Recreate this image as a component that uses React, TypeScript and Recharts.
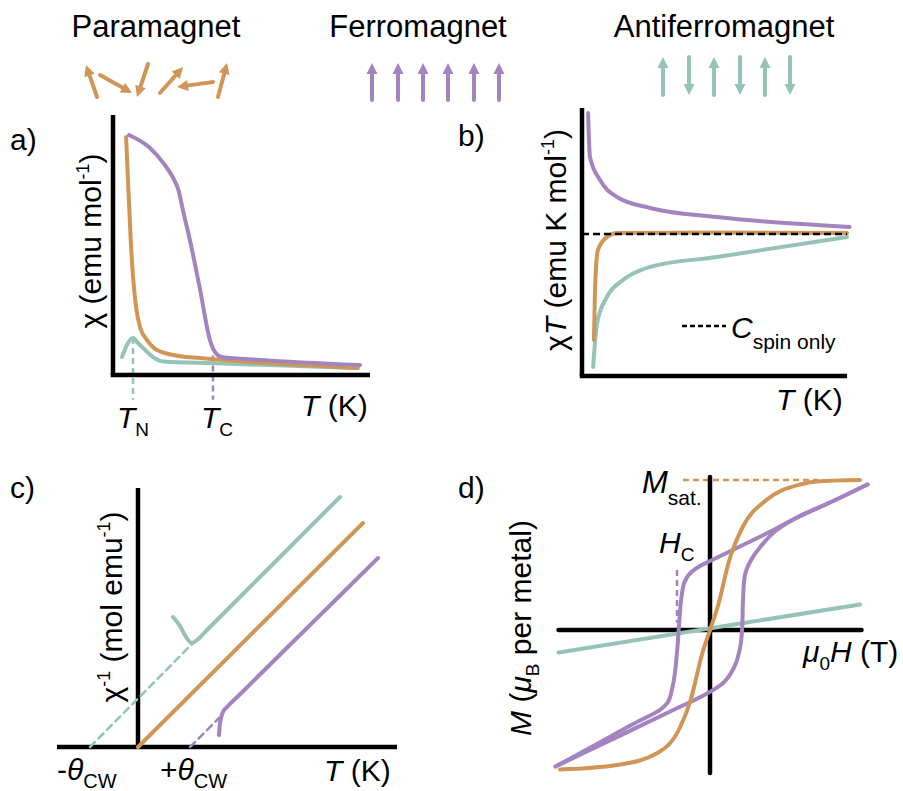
import React from 'react';
import { ComposedChart, Line, XAxis, YAxis, ReferenceLine } from 'recharts';

const FONT = '"Liberation Sans", Arial, Helvetica, sans-serif';
const ORANGE = '#D09656';
const PURPLE = '#A384BF';
const TEAL = '#95C3B8';

type Pt = { x: number; y: number };
const pts = (rows: number[][]): Pt[] => rows.map(([x, y]) => ({ x, y }));

// a) chi vs T
const chiPara = pts([[5.1, 91.5], [5.6, 80], [6.2, 67], [7.0, 50], [7.8, 37.7], [9.0, 26], [10.5, 18.5], [13.2, 13.5], [17.1, 9.6], [24, 7.6], [33.9, 6.5], [53.3, 5], [95.3, 2.7]]);
const chiFerro = pts([[6.2, 92.3], [14.4, 87.3], [20, 81], [23.3, 76], [25.5, 71], [27.3, 63], [29.9, 52], [33.9, 32.7], [37.7, 13.5], [39.7, 8.8], [42.4, 6.9], [57.2, 5.8], [96.1, 3.8]]);
const chiAnti = pts([[3.5, 6.9], [5.4, 11.5], [7.8, 14.2], [9.7, 12.3], [11.7, 10.4], [15.6, 6.9], [19.5, 5.2], [40, 4.5], [94.9, 2.7]]);
const T_N = 7.8;
const T_C = 38.9;

// b) chi*T vs T
const chiTFerro = pts([[2.3, 98.1], [3.0, 81.7], [6.8, 73.1], [13.2, 66.8], [25.7, 62.7], [50.9, 59.3], [101, 55.6]]);
const chiTPara = pts([[4.5, 13.4], [4.9, 32.1], [6.0, 47], [9.4, 51.9], [13.2, 53.4], [50, 53.5], [100, 53.4]]);
const chiTAnti = pts([[4.2, 3.4], [5.7, 19.8], [9.4, 29.5], [15.5, 35.8], [25.7, 40.7], [50.9, 44.4], [100, 51.9]]);
const C_SPIN = 53.0;

// c) inverse chi vs T (Curie-Weiss)
const invPara = pts([[0, 0], [90, 89.6]]);
const invAntiFit = pts([[-19.2, 0], [22, 41.6]]);
const invAnti = pts([[14, 52], [16.8, 48.4], [19.2, 44], [21.6, 41.6], [23.6, 42.8], [28, 47.2], [40, 59.2], [60, 79.2], [80.8, 100]]);
const invFerroFit = pts([[20.8, 0], [32.4, 11.6]]);
const invFerro = pts([[32.4, 4.8], [32.8, 9.6], [34, 14], [35.6, 16], [40, 20.3], [60, 40.1], [80, 59.8], [96, 75.6]]);

// d) M vs H
const mPara = pts([[-1.0, -0.93], [-0.62, -0.9], [-0.35, -0.82], [-0.2, -0.65], [-0.13, -0.47], [-0.05, -0.15], [0, 0], [0.05, 0.15], [0.13, 0.47], [0.22, 0.69], [0.38, 0.87], [0.6, 0.97], [0.71, 0.99], [1.0, 1.0]]);
const mFerroDown = pts([[1.05, 0.97], [0.8, 0.85], [0.6, 0.76], [0.4, 0.655], [0.2, 0.557], [0.0, 0.46], [-0.07, 0.425], [-0.12, 0.39], [-0.17, 0.32], [-0.19, 0.22], [-0.205, 0.05], [-0.22, -0.15], [-0.25, -0.38], [-0.28, -0.48], [-0.33, -0.53], [-0.5, -0.62], [-0.7, -0.73], [-0.9, -0.84], [-1.03, -0.91]]);
const mFerroUp = pts([[-1.03, -0.91], [-0.8, -0.8], [-0.5, -0.656], [-0.2, -0.512], [-0.05, -0.44], [0.08, -0.36], [0.16, -0.25], [0.2, -0.12], [0.215, 0.02], [0.22, 0.2], [0.23, 0.35], [0.27, 0.46], [0.34, 0.56], [0.45, 0.67], [0.6, 0.76], [0.8, 0.85], [1.05, 0.97]]);
const mAnti = pts([[-1.01, -0.15], [1.0, 0.17]]);
const M_SAT = 1.0;
const H_C = -0.22;

// spin icons above the panels
const paraArrows = [[97, 97, 86, 65], [100, 75, 132, 93], [148, 64, 137, 97], [160, 93, 183, 67], [213, 82, 177, 87], [218, 97, 227, 63]];
const ferroArrowX = [372, 398, 423, 448, 474, 499];
const antiArrowX = [663, 689, 714, 740, 765, 790];

type Rect = { left: number; top: number; width: number; height: number };
function domains(r: Rect, ox: number, oy: number, sx: number, sy: number) {
  return {
    x: [(r.left - ox) / sx, (r.left + r.width - ox) / sx] as [number, number],
    y: [(oy - (r.top + r.height)) / sy, (oy - r.top) / sy] as [number, number],
  };
}

const curve = (data: Pt[], color: string, type: any = 'monotone', dash?: string, w = 4) => (
  <Line
    data={data}
    dataKey="y"
    type={type}
    stroke={color}
    strokeWidth={w}
    strokeDasharray={dash}
    strokeLinecap="round"
    dot={false}
    activeDot={false}
    isAnimationActive={false}
  />
);

const axisSeg = (a: Pt, b: Pt, cap = 'butt') => (
  <ReferenceLine segment={[a, b]} stroke="#000" strokeWidth={4.5} strokeLinecap={cap as any} ifOverflow="visible" />
);

const dashSeg = (a: Pt, b: Pt, color: string) => (
  <ReferenceLine segment={[a, b]} stroke={color} strokeWidth={2.5} strokeDasharray="6 4" ifOverflow="visible" />
);

const M0 = { top: 0, right: 0, bottom: 0, left: 0 };

function Arrow({ x1, y1, x2, y2, color }: { x1: number; y1: number; x2: number; y2: number; color: string }) {
  const dx = x2 - x1, dy = y2 - y1;
  const len = Math.hypot(dx, dy);
  const ux = dx / len, uy = dy / len;
  const hl = 11, hw = 5.5;
  const bx = x2 - ux * hl, by = y2 - uy * hl;
  return (
    <g>
      <line x1={x1} y1={y1} x2={bx + ux} y2={by + uy} stroke={color} strokeWidth={4} strokeLinecap="round" />
      <polygon points={`${x2},${y2} ${bx - uy * hw},${by + ux * hw} ${bx + uy * hw},${by - ux * hw}`} fill={color} />
    </g>
  );
}

export default function App() {
  const rA: Rect = { left: 100, top: 105, width: 285, height: 305 };
  const dA = domains(rA, 113, 375, 2.57, 2.6);
  const rB: Rect = { left: 570, top: 100, width: 290, height: 285 };
  const dB = domains(rB, 582, 376, 2.65, 2.68);
  const rC: Rect = { left: 50, top: 480, width: 355, height: 275 };
  const dC = domains(rC, 138, 747, 2.5, 2.5);
  const rD: Rect = { left: 540, top: 465, width: 340, height: 320 };
  const dD = domains(rD, 710, 630, 150, 150);

  const txt = { fontFamily: FONT, fill: '#000' } as const;

  return (
    <div style={{ position: 'absolute', left: 0, top: 0, width: 903, height: 791, background: '#fff', overflow: 'hidden' }}>
      <div style={{ position: 'absolute', left: rA.left, top: rA.top }}>
        <ComposedChart width={rA.width} height={rA.height} margin={M0}>
          <XAxis type="number" dataKey="x" domain={dA.x} hide allowDataOverflow />
          <YAxis type="number" domain={dA.y} hide allowDataOverflow />
          {dashSeg({ x: T_N, y: 14.2 }, { x: T_N, y: -9.5 }, TEAL)}
          {dashSeg({ x: T_C, y: 7.5 }, { x: T_C, y: -9.5 }, PURPLE)}
          {axisSeg({ x: 0, y: 0 }, { x: 0, y: 100 })}
          {axisSeg({ x: -0.9, y: 0 }, { x: 100, y: 0 })}
          {curve(chiAnti, TEAL)}
          {curve(chiPara, ORANGE)}
          {curve(chiFerro, PURPLE)}
        </ComposedChart>
      </div>

      <div style={{ position: 'absolute', left: rB.left, top: rB.top }}>
        <ComposedChart width={rB.width} height={rB.height} margin={M0}>
          <XAxis type="number" dataKey="x" domain={dB.x} hide allowDataOverflow />
          <YAxis type="number" domain={dB.y} hide allowDataOverflow />
          {axisSeg({ x: 0, y: 0 }, { x: 0, y: 100 })}
          {axisSeg({ x: -0.85, y: 0 }, { x: 100, y: 0 })}
          {curve(chiTAnti, TEAL)}
          {curve(chiTPara, ORANGE)}
          {curve(chiTFerro, PURPLE)}
          <ReferenceLine segment={[{ x: 0, y: C_SPIN }, { x: 100, y: C_SPIN }]} stroke="#000" strokeWidth={2.5} strokeDasharray="7 4" ifOverflow="visible" />
        </ComposedChart>
      </div>

      <div style={{ position: 'absolute', left: rC.left, top: rC.top }}>
        <ComposedChart width={rC.width} height={rC.height} margin={M0}>
          <XAxis type="number" dataKey="x" domain={dC.x} hide allowDataOverflow />
          <YAxis type="number" domain={dC.y} hide allowDataOverflow />
          {axisSeg({ x: 0, y: 0 }, { x: 0, y: 103.6 })}
          {axisSeg({ x: -32.4, y: 0 }, { x: 103.6, y: 0 })}
          {curve(invAntiFit, TEAL, 'linear', '7 5', 2.5)}
          {curve(invFerroFit, PURPLE, 'linear', '7 5', 2.5)}
          {curve(invAnti, TEAL)}
          {curve(invPara, ORANGE, 'linear')}
          {curve(invFerro, PURPLE)}
        </ComposedChart>
      </div>

      <div style={{ position: 'absolute', left: rD.left, top: rD.top }}>
        <ComposedChart width={rD.width} height={rD.height} margin={M0}>
          <XAxis type="number" dataKey="x" domain={dD.x} hide allowDataOverflow />
          <YAxis type="number" domain={dD.y} hide allowDataOverflow />
          {dashSeg({ x: -0.18, y: M_SAT }, { x: 0.72, y: M_SAT }, ORANGE)}
          {dashSeg({ x: H_C, y: 0.4 }, { x: H_C, y: 0.05 }, PURPLE)}
          {axisSeg({ x: 0, y: -0.953 }, { x: 0, y: 1.02 }, 'round')}
          {axisSeg({ x: -1.01, y: 0 }, { x: 1.01, y: 0 }, 'round')}
          {curve(mAnti, TEAL, 'linear')}
          {curve(mFerroDown, PURPLE, 'monotoneY')}
          {curve(mFerroUp, PURPLE, 'monotoneY')}
          {curve(mPara, ORANGE)}
        </ComposedChart>
      </div>

      <svg width={903} height={791} style={{ position: 'absolute', left: 0, top: 0, pointerEvents: 'none' }}>
        {/* headings and spin pictograms */}
        <g {...txt} fontSize={31} textAnchor="middle">
          <text x={156} y={37}>Paramagnet</text>
          <text x={418} y={37}>Ferromagnet</text>
          <text x={724} y={37}>Antiferromagnet</text>
        </g>
        {paraArrows.map(([x1, y1, x2, y2], i) => (
          <Arrow key={'p' + i} x1={x1} y1={y1} x2={x2} y2={y2} color={ORANGE} />
        ))}
        {ferroArrowX.map((x, i) => (
          <Arrow key={'f' + i} x1={x} y1={100} x2={x} y2={63} color={PURPLE} />
        ))}
        {antiArrowX.map((x, i) => (
          <Arrow key={'a' + i} x1={x} y1={i % 2 ? 57 : 95} x2={x} y2={i % 2 ? 95 : 57} color={TEAL} />
        ))}

        {/* panel letters */}
        <g {...txt} fontSize={30}>
          <text x={10} y={150}>a)</text>
          <text x={458} y={146}>b)</text>
          <text x={10} y={498}>c)</text>
          <text x={458} y={498}>d)</text>
        </g>

        {/* panel a labels */}
        <g {...txt} fontSize={30}>
          <text transform="translate(101,241) rotate(-90)" textAnchor="middle">
            χ (emu mol<tspan fontSize={18} dy={-12}>-1</tspan><tspan dy={12}>)</tspan>
          </text>
          <text x={301} y={416}><tspan fontStyle="italic">T</tspan> (K)</text>
          <text x={117} y={428}><tspan fontStyle="italic">T</tspan><tspan fontSize={19} dy={8}>N</tspan></text>
          <text x={201} y={428}><tspan fontStyle="italic">T</tspan><tspan fontSize={19} dy={8}>C</tspan></text>
        </g>

        {/* panel b labels */}
        <g {...txt} fontSize={30}>
          <text transform="translate(566,240) rotate(-90)" textAnchor="middle">
            χ<tspan fontStyle="italic">T</tspan> (emu K mol<tspan fontSize={18} dy={-12}>-1</tspan><tspan dy={12}>)</tspan>
          </text>
          <text x={776} y={410}><tspan fontStyle="italic">T</tspan> (K)</text>
          <line x1={682} y1={326} x2={726} y2={326} stroke="#000" strokeWidth={2.5} strokeDasharray="5 3" />
          <text x={731} y={338} fontSize={30}><tspan fontStyle="italic">C</tspan><tspan fontSize={21} dy={11}>spin only</tspan></text>
        </g>

        {/* panel c labels */}
        <g {...txt} fontSize={30}>
          <text transform="translate(122,607) rotate(-90)" textAnchor="middle">
            χ<tspan fontSize={18} dy={-12}>-1</tspan><tspan dy={12}> (mol emu</tspan><tspan fontSize={18} dy={-12}>-1</tspan><tspan dy={12}>)</tspan>
          </text>
          <text x={324} y={781}><tspan fontStyle="italic">T</tspan> (K)</text>
          <text x={57} y={780}>-<tspan fontStyle="italic">θ</tspan><tspan fontSize={20} dy={8}>CW</tspan></text>
          <text x={160} y={780}>+<tspan fontStyle="italic">θ</tspan><tspan fontSize={20} dy={8}>CW</tspan></text>
        </g>

        {/* panel d labels */}
        <g {...txt} fontSize={30}>
          <text transform="translate(531,628) rotate(-90)" textAnchor="middle">
            <tspan fontStyle="italic">M</tspan> (<tspan fontStyle="italic">μ</tspan><tspan fontSize={19} dy={8}>B</tspan><tspan dy={-8}> per metal)</tspan>
          </text>
          <text x={803} y={662}><tspan fontStyle="italic">μ</tspan><tspan fontSize={19} dy={8}>0</tspan><tspan fontStyle="italic" dy={-8}>H</tspan> (T)</text>
          <text x={642} y={493} fontSize={31}><tspan fontStyle="italic">M</tspan><tspan fontSize={21} dy={12}>sat.</tspan></text>
          <text x={659} y={553}><tspan fontStyle="italic">H</tspan><tspan fontSize={19} dy={8}>C</tspan></text>
        </g>
      </svg>
    </div>
  );
}
